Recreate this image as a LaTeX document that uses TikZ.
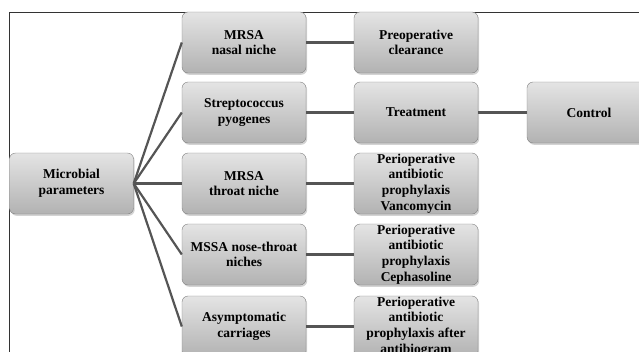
\documentclass[tikz,border=0pt]{standalone}
\usepackage{fontspec}
\setmainfont{Liberation Serif}
\usepackage{tikz}
\usetikzlibrary{shadows}
\definecolor{boxtop}{HTML}{E4E4E4}
\definecolor{boxbottom}{HTML}{B2B2B2}
\definecolor{boxline}{HTML}{808080}
\definecolor{linkgrey}{HTML}{555555}
\tikzstyle{greybox}=[rectangle,rounded corners=6pt,draw=boxline,
                     top color=boxtop,bottom color=boxbottom,
                     drop shadow={shadow xshift=1.2pt,shadow yshift=-1.8pt,
                                  opacity=0.35},
                     minimum width=124pt,minimum height=61pt,inner sep=0pt,
                     align=center,font=\fontsize{13.5}{15.7}\selectfont\bfseries]
\tikzstyle{link}=[draw=linkgrey,line width=2.2pt]
\tikzstyle{frame}=[draw=black!80,line width=0.8pt]

\begin{document}
\begin{tikzpicture}[x=1pt,y=-1pt]
    \newcommand{\cA}{71.5}
    \newcommand{\cB}{244}
    \newcommand{\cC}{416}
    \newcommand{\cD}{589}
    \clip (0,0) rectangle (639,351);
    \draw[frame] (9,360) -- (9,12) -- (650,12);
    \node (micro) at (\cA,183.5) [greybox]{Microbial\\parameters};
    \node (mrsanose) at (\cB,42.5) [greybox]{MRSA\\nasal niche};
    \node (strep) at (\cB,112.5) [greybox]{Streptococcus\\pyogenes};
    \node (mrsathroat) at (\cB,183.5) [greybox]{MRSA\\throat niche};
    \node (mssa) at (\cB,254.5) [greybox]{MSSA nose-throat\\niches};
    \node (asympt) at (\cB,326.5) [greybox]{Asymptomatic\\carriages};
    \node (clear) at (\cC,42.5) [greybox]{Preoperative\\clearance};
    \node (treat) at (\cC,112.5) [greybox]{Treatment};
    \node (vanco) at (\cC,183.5) [greybox]{Perioperative\\antibiotic\\prophylaxis\\Vancomycin};
    \node (cepha) at (\cC,254.5) [greybox]{Perioperative\\antibiotic\\prophylaxis\\Cephasoline};
    \node (abgram) at (\cC,326.5) [greybox]{Perioperative\\antibiotic\\prophylaxis after\\antibiogram};
    \node (control) at (\cD,112.5) [greybox]{Control};
    \draw[link] (micro.east) -- (mrsanose.west);
    \draw[link] (micro.east) -- (strep.west);
    \draw[link] (micro.east) -- (mrsathroat.west);
    \draw[link] (micro.east) -- (mssa.west);
    \draw[link] (micro.east) -- (asympt.west);
    \draw[link] (mrsanose) -- (clear);
    \draw[link] (strep) -- (treat);
    \draw[link] (mrsathroat) -- (vanco);
    \draw[link] (mssa) -- (cepha);
    \draw[link] (asympt) -- (abgram);
    \draw[link] (treat) -- (control);
\end{tikzpicture}
\end{document}
